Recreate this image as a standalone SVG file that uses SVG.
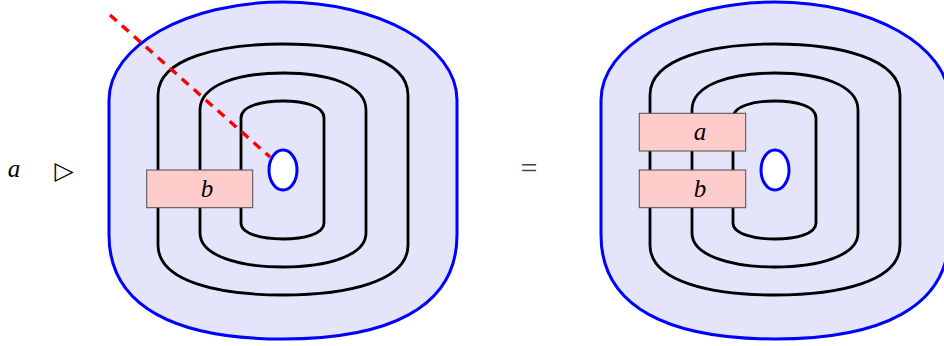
<svg xmlns="http://www.w3.org/2000/svg" width="944" height="346" viewBox="0 0 944 346">
<style>
.disk{fill:#e4e4fb;stroke:#0000ff;stroke-width:3}
.hole{fill:#ffffff;stroke:#0000ff;stroke-width:3}
.curve{fill:none;stroke:#000000;stroke-width:2.8}
.box{fill:#ffcccc;stroke:#4d4d4d;stroke-width:1}
.lab{font-family:"Liberation Serif","DejaVu Serif",serif;font-style:italic;font-size:25px;fill:#000;text-anchor:middle}
.sym{font-family:"DejaVu Sans",sans-serif;font-size:25px;fill:#000;text-anchor:middle}
.cut{fill:none;stroke:#ff0000;stroke-width:3.4;stroke-dasharray:9 7}
</style>
<defs>
<path id="disk" d="M109,100 C109,46 187,2 283,2 C379,2 457,46 457,100 L457,235 C457,308 388,339 283,339 C178,339 109,308 109,235 Z"/>
<path id="c1" d="M158,95 C158,58 220,44 283,44 C346,44 408,58 408,95 L408,245 C408,282 346,295 283,295 C220,295 158,282 158,245 Z"/>
<path id="c2" d="M200,110 C200,84 240,73 283,73 C326,73 366,84 366,110 L366,233 C366,256 326,267 283,267 C240,267 200,256 200,233 Z"/>
<path id="c3" d="M241,118 C241,106 262,101 283,101 C304,101 324,106 324,118 L324,223 C324,234 304,239 283,239 C262,239 241,234 241,223 Z"/>
</defs>

<g id="label-a">
<text class="lab" x="14" y="177">a</text>
</g>
<g id="label-action">
<text class="sym" x="64" y="179">▷</text>
</g>
<g id="label-equals">
<text x="529" y="178" style="font-family:'Liberation Serif',serif;font-size:30px;text-anchor:middle;fill:#444">=</text>
</g>

<g id="left-figure">
<use href="#disk" class="disk"/>
<use href="#c1" class="curve"/>
<use href="#c2" class="curve"/>
<use href="#c3" class="curve"/>
<line class="cut" x1="110" y1="15" x2="270" y2="157"/>
<ellipse class="hole" cx="283" cy="170" rx="14" ry="20"/>
<g id="left-box-b">
<rect class="box" x="146.7" y="170" width="106" height="37.7"/>
<text class="lab" x="207" y="197">b</text>
</g>
</g>

<g id="right-figure" transform="translate(492,0)">
<use href="#disk" class="disk"/>
<use href="#c1" class="curve"/>
<use href="#c2" class="curve"/>
<use href="#c3" class="curve"/>
<ellipse class="hole" cx="283" cy="170" rx="14" ry="20"/>
<g id="right-box-a">
<rect class="box" x="147.3" y="113.3" width="106.4" height="37.7"/>
<text class="lab" x="208" y="140">a</text>
</g>
<g id="right-box-b">
<rect class="box" x="147.3" y="170" width="106.4" height="37.7"/>
<text class="lab" x="208" y="197">b</text>
</g>
</g>
</svg>
